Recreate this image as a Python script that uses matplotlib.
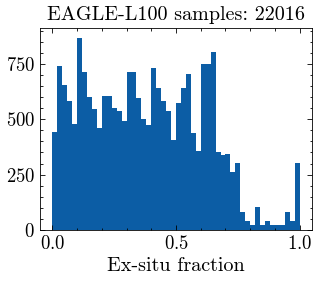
import numpy as np
import matplotlib
matplotlib.use("Agg")
import matplotlib.pyplot as plt
from matplotlib.ticker import MultipleLocator

# Histogram counts for 50 bins of ex-situ fraction between 0 and 1
bin_edges = np.linspace(0.0, 1.0, 51)
counts = [441, 742, 652, 582, 477, 868, 711, 598, 544, 461,
          606, 606, 549, 537, 492, 715, 711, 594, 501, 472,
          729, 639, 582, 537, 406, 571, 639, 706, 436, 355,
          749, 749, 805, 351, 337, 342, 261, 301, 81, 40,
          22, 103, 22, 40, 22, 22, 22, 81, 40, 301]
title = "EAGLE-L100 samples: 22016"
xlabel = "Ex-situ fraction"

plt.rcParams['font.family'] = 'cmr10'
plt.rcParams['mathtext.fontset'] = 'cm'
plt.rcParams['axes.formatter.use_mathtext'] = True
plt.rcParams['axes.unicode_minus'] = False

fig = plt.figure(figsize=(3.17, 2.82), dpi=100)
ax = fig.add_axes([40/317, 1-230/282, (312-40)/317, (230-28)/282])

centers = 0.5 * (bin_edges[:-1] + bin_edges[1:])
ax.hist(centers, bins=bin_edges, weights=counts, color='#0C5DA5', edgecolor='none')

ax.set_title(title, fontsize=14.5, pad=6)
ax.set_xlabel(xlabel, fontsize=14.5, labelpad=3)
ax.xaxis.set_major_locator(MultipleLocator(0.5))
ax.xaxis.set_minor_locator(MultipleLocator(0.1))
ax.yaxis.set_major_locator(MultipleLocator(250))
ax.yaxis.set_minor_locator(MultipleLocator(50))
ax.tick_params(which='both', direction='in', top=True, right=True, labelsize=13.5, width=0.6)
ax.tick_params(which='major', length=3.5)
ax.tick_params(which='minor', length=1.8)
for s in ax.spines.values():
    s.set_linewidth(0.6)

fig.savefig("out.png", dpi=100)
